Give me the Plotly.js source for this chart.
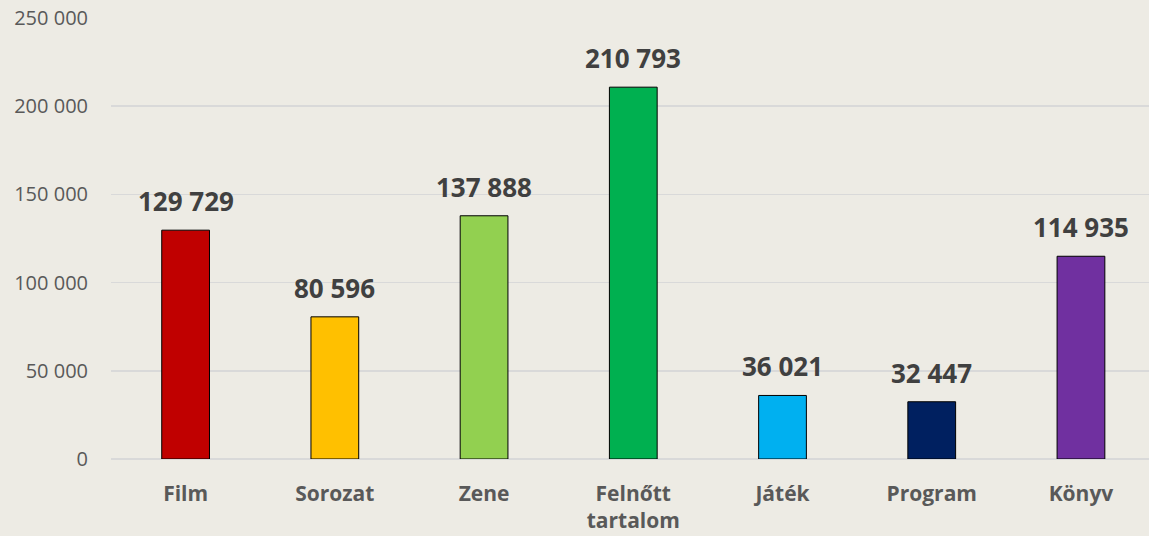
<!DOCTYPE html>
<html><head><meta charset="utf-8">
<script src="https://cdn.plot.ly/plotly-3.0.1.min.js"></script>
<style>html,body{margin:0;padding:0;background:#edebe4;}</style>
</head><body>
<div id="chart" style="width:1149px;height:536px;"></div>
<script>
const categories = ["Film", "Sorozat", "Zene", "Felnőtt<br>tartalom", "Játék", "Program", "Könyv"];
const values = [129729, 80596, 137888, 210793, 36021, 32447, 114935];
const labels = ["129 729", "80 596", "137 888", "210 793", "36 021", "32 447", "114 935"];
const colors = ["#c00000", "#ffc000", "#92d050", "#00b050", "#00b0f0", "#002060", "#7030a0"];
const yTicks = [0, 50000, 100000, 150000, 200000, 250000];

const trace = {
  type: "bar",
  x: categories,
  y: values,
  width: 0.32,
  marker: {color: colors, line: {color: "#000000", width: 1}},
  hoverinfo: "none"
};

const annotations = categories.map((c, i) => ({
  x: c, y: values[i], text: labels[i], showarrow: false,
  yanchor: "bottom", yshift: 9,
  font: {family: "Open Sans, sans-serif", size: 26, color: "#404040", weight: 700}
}));

const layout = {
  width: 1149, height: 536,
  margin: {l: 111, r: 0, t: 18, b: 77},
  paper_bgcolor: "#edebe4",
  plot_bgcolor: "#edebe4",
  separators: ", ",
  showlegend: false,
  xaxis: {
    type: "category",
    range: [-0.5, 6.456],
    showgrid: false, zeroline: false, showline: false,
    ticks: "", ticklabelstandoff: 20,
    tickfont: {family: "Open Sans, sans-serif", size: 21, color: "#595959", weight: 700}
  },
  yaxis: {
    range: [0, 250000],
    tickvals: yTicks,
    tickformat: ",d",
    showgrid: true, gridcolor: "#d9d9d9", gridwidth: 1.5,
    zeroline: true, zerolinecolor: "#d9d9d9", zerolinewidth: 1.5,
    showline: false, ticks: "", ticklabelstandoff: 22,
    tickfont: {family: "Open Sans, sans-serif", size: 20, color: "#595959"}
  },
  annotations: annotations
};

Plotly.newPlot("chart", [trace], layout, {displayModeBar: false, staticPlot: true});
</script>
</body></html>
